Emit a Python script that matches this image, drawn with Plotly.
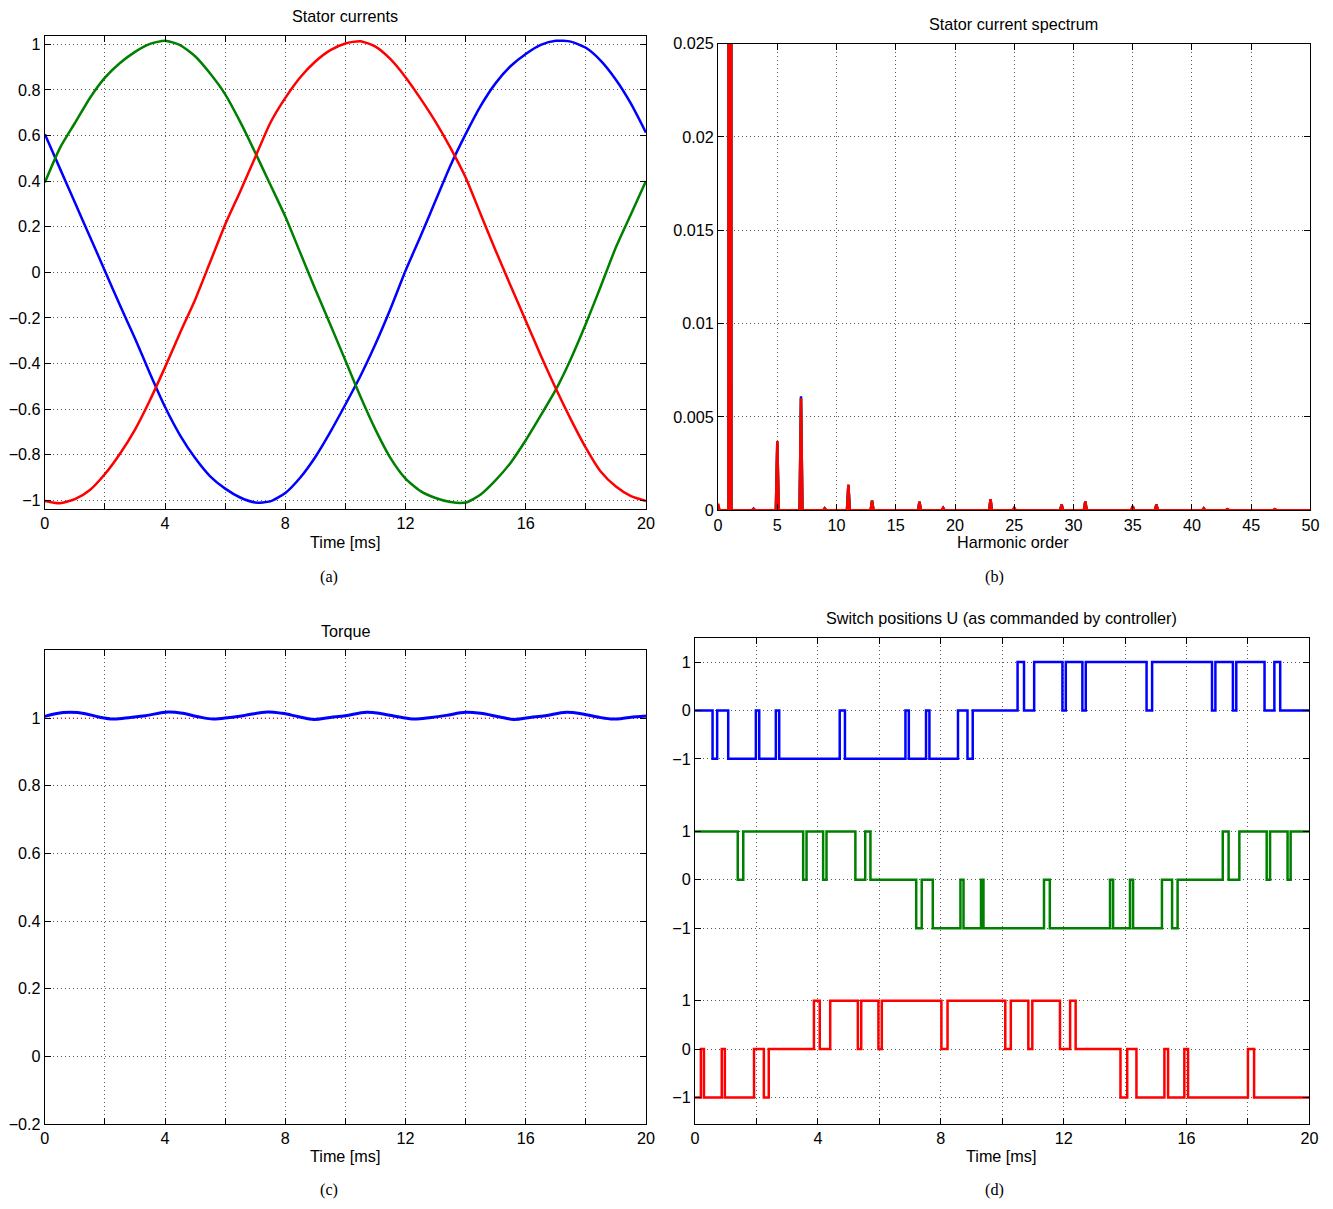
import plotly.graph_objects as go

W, H = 1333, 1209
# empirical page-to-picture compensation (8px page margin, picture rescaled)
OFF = 8
SX, SY = (W + 2 * OFF) / W, (H + 2 * OFF) / H

# ---------------- data: stator currents (a) ----------------
t_cur = [0.0, 0.5, 1.0, 1.5, 2.0, 2.5, 3.0, 3.5, 4.0, 4.5, 5.0, 5.5, 6.0, 6.5, 7.0, 7.5,
         8.0, 8.5, 9.0, 9.5, 10.0, 10.5, 11.0, 11.5, 12.0, 12.5, 13.0, 13.5, 14.0, 14.5,
         15.0, 15.5, 16.0, 16.5, 17.0, 17.5, 18.0, 18.5, 19.0, 19.5, 20.0]
i_blue = [0.606, 0.456, 0.306, 0.156, 0.006, -0.145, -0.29, -0.445, -0.591, -0.715, -0.815,
          -0.895, -0.949, -0.988, -1.01, -1.005, -0.968, -0.9, -0.81, -0.7, -0.58,
          -0.455, -0.315, -0.16, 0.007, 0.158, 0.315, 0.47, 0.606, 0.73, 0.83, 0.905, 0.958,
          0.998, 1.016, 1.012, 0.985, 0.928, 0.845, 0.74, 0.613]
i_green = [0.394, 0.545, 0.655, 0.765, 0.854, 0.918, 0.967, 1.002, 1.016, 0.997, 0.948, 0.872,
           0.781, 0.66, 0.525, 0.385, 0.245, 0.085, -0.075, -0.23, -0.387, -0.545, -0.69, -0.815,
           -0.905, -0.96, -0.99, -1.008, -1.01, -0.975, -0.912, -0.835, -0.737, -0.628, -0.515,
           -0.38, -0.226, -0.06, 0.11, 0.255, 0.4]
i_red = [-1.003, -1.013, -0.995, -0.955, -0.885, -0.796, -0.69, -0.56, -0.416, -0.265, -0.12,
         0.045, 0.21, 0.355, 0.505, 0.655, 0.765, 0.856, 0.925, 0.975, 1.004, 1.014, 0.99, 0.935,
         0.856, 0.762, 0.66, 0.545, 0.416, 0.255, 0.095, -0.06, -0.212, -0.365, -0.51, -0.645,
         -0.77, -0.875, -0.94, -0.982, -1.003]

# ---------------- data: spectrum (b) ----------------
harm_order = [0, 1, 3, 5, 7, 9, 11, 13, 17, 19, 23, 25, 29, 31, 35, 37, 41, 43, 47]
spec_blue = [0.0001, 1.0, 0.00008, 0.0036, 0.0061, 0.0001, 0.00135, 0.0005, 0.00045, 0.00012,
             0.00058, 0.0001, 0.0003, 0.00047, 0.0002, 0.0003, 0.0001, 0.00005, 0.00005]
spec_green = [0.0003, 1.0, 0.00005, 0.0037, 0.006, 0.0001, 0.00136, 0.00052, 0.00045, 0.00012,
              0.00058, 0.00012, 0.0003, 0.00048, 0.00022, 0.0003, 0.0001, 0.00005, 0.00005]
spec_red = [0.00035, 1.0, 0.00005, 0.0037, 0.006, 0.0001, 0.00137, 0.00052, 0.00045, 0.00012,
            0.00059, 0.00012, 0.0003, 0.00048, 0.00022, 0.0003, 0.0001, 0.00005, 0.00005]

# ---------------- data: torque (c) ----------------
torque_t = [0.0, 0.35, 0.85, 1.35, 1.8, 2.3, 2.85, 3.35, 4.1, 4.6, 5.1, 5.6, 6.15, 6.65, 7.4,
            7.9, 8.45, 8.95, 9.5, 10.0, 10.7, 11.2, 11.8, 12.3, 12.85, 13.35, 14.0, 14.5, 15.1,
            15.6, 16.15, 16.65, 17.35, 17.85, 18.4, 18.9, 19.45, 20.0]
torque_v = [1.005, 1.013, 1.017, 1.013, 1.003, 0.997, 1.002, 1.007, 1.018, 1.014, 1.004, 0.997,
            1.002, 1.008, 1.018, 1.014, 1.004, 0.996, 1.002, 1.007, 1.017, 1.013, 1.003, 0.997,
            1.002, 1.008, 1.017, 1.014, 1.004, 0.996, 1.002, 1.007, 1.017, 1.013, 1.003, 0.997,
            1.002, 1.006]
torque_ref_t = [0.0, 20.0]
torque_ref_v = [1.0, 1.0]

# ---------------- data: switch positions (d) ----------------
sw_blue_t = [0, 0.57, 0.72, 1.08, 1.98, 2.09, 2.63, 2.74, 4.71, 4.88, 6.85, 6.96, 7.52, 7.63,
             8.56, 8.87, 9.04, 10.50, 10.71, 11.04, 11.96, 12.07, 12.61, 12.72, 14.70, 14.88,
             16.83, 16.94, 17.51, 17.62, 18.54, 18.86, 19.05, 20]
sw_blue_v = [0, -1, 0, -1, 0, -1, 0, -1, 0, -1, 0, -1, 0, -1, 0, -1, 0, 1, 0, 1, 0, 1, 0, 1,
             0, 1, 0, 1, 0, 1, 0, 1, 0, 0]
sw_green_t = [0, 1.39, 1.57, 3.52, 3.63, 4.17, 4.28, 5.22, 5.54, 5.71, 7.20, 7.38, 7.74, 8.64,
              8.74, 9.31, 9.39, 11.36, 11.55, 13.51, 13.61, 14.16, 14.26, 15.20, 15.53, 15.71,
              17.18, 17.37, 17.72, 18.61, 18.72, 19.29, 19.39, 20]
sw_green_v = [1, 0, 1, 0, 1, 0, 1, 0, 1, 0, -1, 0, -1, 0, -1, 0, -1, 0, -1, 0, -1, 0, -1, 0,
              -1, 0, 1, 0, 1, 0, 1, 0, 1, 1]
sw_red_t = [0, 0.19, 0.29, 0.87, 0.97, 1.92, 2.24, 2.40, 3.87, 4.06, 4.40, 5.30, 5.41, 5.97,
            6.08, 8.02, 8.22, 10.10, 10.28, 10.85, 10.98, 11.88, 12.21, 12.39, 13.85, 14.07,
            14.37, 15.28, 15.40, 15.93, 16.05, 18.00, 18.20, 20]
sw_red_v = [-1, 0, -1, 0, -1, 0, -1, 0, 1, 0, 1, 0, 1, 0, 1, 0, 1, 0, 1, 0, 1, 0, 1, 0, -1, 0,
            -1, 0, -1, 0, -1, 0, -1, -1]

time_ticks = [0, 2, 4, 6, 8, 10, 12, 14, 16, 18, 20]
time_labels = ["0", "", "4", "", "8", "", "12", "", "16", "", "20"]

# ---------------- styling ----------------
BLUE = "rgb(0,0,255)"
GREEN = "rgb(0,128,0)"
RED = "rgb(255,0,0)"
FONT = "Liberation Sans, Arial, sans-serif"
SERIF = "Liberation Serif, Times New Roman, serif"
FS = 16.2
LW = 2.5
PEAK_HALF_WIDTH = 0.12


def px_x(p):
    return (p * SX - OFF) / W


def px_y(p):
    return 1 - (p * SY - OFF) / H


def spectrum_line(orders, amps):
    xs, ys = [0], [0]
    for h, a in zip(orders, amps):
        xs += [max(h - PEAK_HALF_WIDTH, 0), h, h + PEAK_HALF_WIDTH]
        ys += [0, a, 0]
    xs.append(50)
    ys.append(0)
    return xs, ys


fig = go.Figure()

# (a)
for y, c in [(i_blue, BLUE), (i_green, GREEN), (i_red, RED)]:
    fig.add_trace(go.Scatter(x=t_cur, y=y, mode="lines", line=dict(color=c, width=LW, shape="spline", smoothing=0.6),
                             xaxis="x", yaxis="y", showlegend=False))
# (b)
for amps, c in [(spec_blue, BLUE), (spec_green, GREEN), (spec_red, RED)]:
    xs, ys = spectrum_line(harm_order, amps)
    fig.add_trace(go.Scatter(x=xs, y=ys, mode="lines", line=dict(color=c, width=LW), fill="tozeroy",
                             fillcolor=c, xaxis="x2", yaxis="y2", showlegend=False))
# (c)
fig.add_trace(go.Scatter(x=torque_ref_t, y=torque_ref_v, mode="lines",
                         line=dict(color=RED, width=1, dash="1px,3px"), xaxis="x3", yaxis="y3", showlegend=False))
fig.add_trace(go.Scatter(x=torque_t, y=torque_v, mode="lines",
                         line=dict(color=BLUE, width=3, shape="spline", smoothing=1.0),
                         xaxis="x3", yaxis="y3", showlegend=False))
# (d)
fig.add_trace(go.Scatter(x=sw_red_t, y=sw_red_v, mode="lines", line=dict(color=RED, width=LW, shape="hv"),
                         xaxis="x4", yaxis="y4", showlegend=False))
fig.add_trace(go.Scatter(x=sw_green_t, y=sw_green_v, mode="lines", line=dict(color=GREEN, width=LW, shape="hv"),
                         xaxis="x4", yaxis="y5", showlegend=False))
fig.add_trace(go.Scatter(x=sw_blue_t, y=sw_blue_v, mode="lines", line=dict(color=BLUE, width=LW, shape="hv"),
                         xaxis="x4", yaxis="y6", showlegend=False))

common = dict(showline=True, linecolor="black", linewidth=1, mirror="ticks", ticks="inside",
              ticklen=6, tickcolor="black", tickwidth=1, showgrid=True, gridcolor="rgba(0,0,0,0.65)",
              griddash="1px,3px", gridwidth=1, zeroline=False, tickfont=dict(family=FONT, size=FS, color="black"))

xa_dom = [px_x(47.7), px_x(648)]
fig.update_layout(
    width=W, height=H, margin=dict(l=0, r=0, t=0, b=0),
    paper_bgcolor="white", plot_bgcolor="white",
    font=dict(family=FONT, size=FS, color="black"),
    xaxis=dict(domain=xa_dom, range=[0, 20], tickvals=time_ticks, ticktext=time_labels, anchor="y", **common),
    yaxis=dict(domain=[px_y(508.5), px_y(35)], range=[-1.037, 1.0365], tickvals=[-1, -0.8, -0.6, -0.4, -0.2, 0, 0.2, 0.4, 0.6, 0.8, 1],
               ticktext=["\u22121", "\u22120.8", "\u22120.6", "\u22120.4", "\u22120.2", "0", "0.2", "0.4", "0.6", "0.8", "1"],
               anchor="x", **common),
    xaxis2=dict(domain=[px_x(720), px_x(1311.5)], range=[0, 50], tickvals=list(range(0, 51, 5)), anchor="y2", **common),
    yaxis2=dict(domain=[px_y(510), px_y(42.5)], range=[0, 0.025], tickvals=[0, 0.005, 0.01, 0.015, 0.02, 0.025],
                ticktext=["0", "0.005", "0.01", "0.015", "0.02", "0.025"], anchor="x2", **common),
    xaxis3=dict(domain=xa_dom, range=[0, 20], tickvals=time_ticks, ticktext=time_labels, anchor="y3", **common),
    yaxis3=dict(domain=[px_y(1125), px_y(650.5)], range=[-0.2, 1.2], tickvals=[-0.2, 0, 0.2, 0.4, 0.6, 0.8, 1],
                ticktext=["\u22120.2", "0", "0.2", "0.4", "0.6", "0.8", "1"], anchor="x3", **common),
    xaxis4=dict(domain=[px_x(697), px_x(1310.5)], range=[0, 20], tickvals=time_ticks, ticktext=time_labels, anchor="y4", **common),
    yaxis4=dict(domain=[px_y(1125), px_y(638)], range=[-1.55, 8.5], tickvals=[-1, 0, 1], ticktext=["\u22121", "0", "1"],
                anchor="x4", **common),
    yaxis5=dict(range=[-5.05, 5.0], tickvals=[-1, 0, 1], ticktext=["\u22121", "0", "1"], overlaying="y4", anchor="x4",
                side="left", **common),
    yaxis6=dict(range=[-8.55, 1.5], tickvals=[-1, 0, 1], ticktext=["\u22121", "0", "1"], overlaying="y4", anchor="x4",
                side="left", **common),
)

ann = []
def text(x, y, s, size=FS, fam=FONT):
    ann.append(dict(x=px_x(x), y=px_y(y), xref="paper", yref="paper", text=s, showarrow=False,
                    xanchor="center", yanchor="middle", font=dict(family=fam, size=size, color="black")))

text(347.5, 15, "Stator currents")
text(1015, 23, "Stator current spectrum")
text(348, 631, "Torque")
text(1003, 618, "Switch positions U (as commanded by controller)")
text(347.5, 542, "Time [ms]")
text(1015, 542, "Harmonic order")
text(347.5, 1157, "Time [ms]")
text(1003, 1157, "Time [ms]")
text(331, 577, "(a)", fam=SERIF)
text(996, 577, "(b)", fam=SERIF)
text(331, 1191, "(c)", fam=SERIF)
text(996, 1191, "(d)", fam=SERIF)
fig.update_layout(annotations=ann)

fig.write_html("out.html")
